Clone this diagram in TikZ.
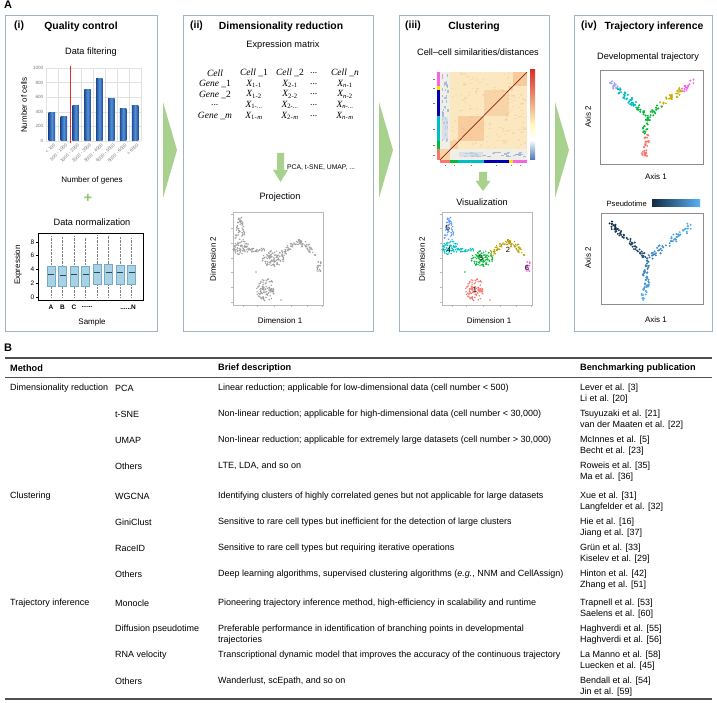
\documentclass[tikz,border=0pt]{standalone}
\usepackage{fontspec}
\setmainfont{Liberation Sans}
\newfontfamily\serf{Liberation Serif}
\definecolor{panelc}{RGB}{160,178,198}
\definecolor{chevc}{RGB}{169,209,142}
\definecolor{plusc}{RGB}{140,196,100}
\definecolor{bardark}{RGB}{30,78,150}
\definecolor{barlight}{RGB}{85,145,215}
\definecolor{redl}{RGB}{225,45,45}
\definecolor{boxf}{RGB}{168,210,230}
\definecolor{boxd}{RGB}{120,170,200}
\definecolor{medc}{RGB}{40,70,90}
\definecolor{ptgray}{RGB}{160,160,160}
\definecolor{gridc}{RGB}{225,225,225}
\definecolor{tickc}{RGB}{120,120,120}
\definecolor{frmc}{RGB}{185,185,185}
\definecolor{frm2}{RGB}{140,140,140}
\definecolor{rulec}{RGB}{80,80,80}
\definecolor{cA}{RGB}{248,118,109}
\definecolor{cB}{RGB}{183,159,0}
\definecolor{cC}{RGB}{0,186,56}
\definecolor{cD}{RGB}{0,191,196}
\definecolor{cE}{RGB}{97,156,255}
\definecolor{cF}{RGB}{245,100,227}
\definecolor{tP}{RGB}{160,165,245}
\definecolor{psA}{RGB}{19,43,67}
\definecolor{psB}{RGB}{86,177,247}
\definecolor{hmbase}{RGB}{251,231,192}
\definecolor{hmband}{RGB}{240,238,230}
\definecolor{hmblue}{RGB}{150,180,216}
\definecolor{hmblue2}{RGB}{200,214,232}
\definecolor{hmor}{RGB}{244,180,125}
\definecolor{dred}{RGB}{140,30,20}
\definecolor{cbred}{RGB}{215,48,39}
\definecolor{cbyel}{RGB}{255,250,190}
\definecolor{cbblue}{RGB}{69,117,180}

\newcommand{\cloud}{%
\pgfmathsetseed{4242}%
\foreach \i in {1,...,55}{\pgfmathsetmacro{\t}{rnd}\fill[kE] ({240+0.5*\t+(1.5+4.5*\t)*rand},{217+23*\t+1.5*rand}) circle (0.8);}%
\foreach \i in {1,...,70}{\pgfmathsetmacro{\a}{360*rnd}\pgfmathsetmacro{\r}{sqrt(rnd)}\fill[kD] ({241.5+8.5*\r*cos(\a)},{248+7*\r*sin(\a)}) circle (0.8);}%
\foreach \i in {1,...,26}{\pgfmathsetmacro{\t}{rnd}\fill[kD] ({249+17*\t},{250+1.8*rand}) circle (0.8);}%
\foreach \i in {1,...,100}{\pgfmathsetmacro{\a}{360*rnd}\pgfmathsetmacro{\r}{sqrt(rnd)}\fill[kC] ({273+11*\r*cos(\a)},{258.5+8*\r*sin(\a)}) circle (0.8);}%
\foreach \i in {1,...,90}{\pgfmathsetmacro{\t}{rnd}\fill[kB] ({283+33*\t+2.5*rand},{254-13*sin(180*\t)+3*\t+3*rand}) circle (0.8);}%
\foreach \i in {1,...,18}{\fill[kF] ({319+2*rand},{266+5.5*rand}) circle (0.8);}%
\foreach \i in {1,...,100}{\pgfmathsetmacro{\a}{360*rnd}\pgfmathsetmacro{\r}{sqrt(rnd)}\fill[kA] ({266+9.5*\r*cos(\a)},{290+11.5*\r*sin(\a)}) circle (0.8);}%
\fill[kC] (256,272) circle (0.8); \fill[kA] (281,300) circle (0.8);%
}
\newcommand{\plotframe}[4]{%
\draw[frm] (#1,#2) rectangle (#3,#4);
\foreach \tx in {243,257,274,291,307,322}{\draw[frmc,line width=0.4pt] (\tx-#1+233,#4) -- (\tx-#1+233,#4+2);}
\foreach \ty in {214,228,243,258,272,287,302}{\draw[frmc,line width=0.4pt] (#1,\ty) -- (#1-2,\ty);}
}
\newcommand{\trow}[7]{%
\node[tb] (#2a) at (10,#1) {#3};
\node[tb] (#2b) at (115,#1) {#4};
\node[tb] (#2c) at (218,#1) {#5};
\node[tb] (#2d) at (580,#1) {#6};
\node[tb] (#2e) at (580,#1+11) {#7};
}

\begin{document}
\begin{tikzpicture}[x=1pt,y=-1pt,
 panel/.style={draw=panelc, line width=0.9pt, minimum width=#1, minimum height=316pt, anchor=north west, inner sep=0pt, outer sep=0pt},
 ptitle/.style={font=\bfseries\fontsize{10.4}{12}\selectfont, inner sep=0pt},
 subt/.style={font=\fontsize{9.2}{11}\selectfont, inner sep=0pt},
 axl/.style={font=\fontsize{8}{9.6}\selectfont, inner sep=0pt},
 tk/.style={font=\fontsize{4.6}{5.5}\selectfont, text=tickc, inner sep=0pt},
 mat/.style={font=\serf\itshape\fontsize{9.5}{10}\selectfont, inner sep=0pt},
 tb/.style={font=\fontsize{9}{10.5}\selectfont, anchor=west, inner sep=0pt},
 th/.style={font=\bfseries\fontsize{9.2}{10.5}\selectfont, anchor=west, inner sep=0pt},
 frm/.style={draw=frmc, line width=0.5pt},
 frmb/.style={draw=frm2, line width=0.7pt},
 chev/.style={fill=chevc},
 lbl/.style={font=\bfseries\fontsize{11}{12}\selectfont, inner sep=0pt, anchor=west},
 cl/.style={font=\fontsize{7.5}{8}\selectfont, inner sep=0pt},
]
\useasboundingbox (0,0) rectangle (717,703);
\fill[white] (0,0) rectangle (717,703);

% ---------- labels and panels
\node[lbl] (labA) at (4,5) {A};
\node[panel=152pt] (P1) at (5,15) {};
\node[panel=190pt] (P2) at (183,15) {};
\node[panel=150pt] (P3) at (399,15) {};
\node[panel=138pt] (P4) at (574,15) {};

% chevrons between panels
\fill[chev] (163,102) -- (177,150) -- (163,198) -- cycle;
\fill[chev] (379,102) -- (393,150) -- (379,198) -- cycle;
\fill[chev] (555,102) -- (569,150) -- (555,198) -- cycle;

% titles
\node[ptitle, anchor=west] (t1a) at (14,26) {(i)};
\node[ptitle] (t1) at (81,27) {Quality control};
\node[ptitle, anchor=west] (t2a) at (190,26) {(ii)};
\node[ptitle] (t2) at (281,27) {Dimensionality reduction};
\node[ptitle, anchor=west] (t3a) at (405,26) {(iii)};
\node[ptitle] (t3) at (474,27) {Clustering};
\node[ptitle, anchor=west] (t4a) at (581,26) {(iv)};
\node[ptitle] (t4) at (654,27) {Trajectory inference};

% ---------- panel (i): bar chart
\node[subt] (s1) at (91,52) {Data filtering};
\foreach \k in {0,...,8}{\draw[gridc, line width=0.3pt] ({46+11.875*\k},68) -- ({46+11.875*\k},141);}
\foreach \v in {0,200,...,1000}{
  \draw[gridc, line width=0.3pt] (46,{141-0.073*\v}) -- (141,{141-0.073*\v});
  \node[tk, anchor=east] (yt\v) at (43.5,{141-0.073*\v}) {\v};
}
\foreach \k/\val/\lab in {0/390/{< 100},1/330/{500 - 1000},2/480/{1000 - 2000},3/710/{2000 - 3000},4/850/{3000 - 4000},5/580/{4000 - 5000},6/440/{5000 - 6000},7/490/{> 6000}}{
  \pgfmathsetmacro{\cx}{46+5.94+11.875*\k}
  \shade[left color=bardark, right color=bardark, middle color=barlight] ({\cx-3.3},141) rectangle ({\cx+3.3},{141-0.073*\val});
  \node[tk, rotate=45, anchor=north east] (xl\k) at ({\cx+1.5},143) {\lab};
}
\draw[redl, line width=1.1pt] (70.5,66) -- (70.5,143);
\node[axl, rotate=90] (ylab1) at (24,105) {Number of cells};
\node[axl] (xlab1) at (92,180) {Number of genes};

\node[font=\bfseries\fontsize{14}{14}\selectfont, text=plusc, inner sep=0pt] (plus) at (88,198) {+};

% ---------- panel (i): box plot
\node[subt] (s1b) at (92,222) {Data normalization};
\foreach \cx/\qa/\md/\qb/\wt in {51/1.6/3.3/4.5/8.9,62.5/1.5/3.2/4.4/8.8,74/1.6/3.3/4.5/8.8,85.5/1.5/3.3/4.5/8.7,97/1.8/3.5/4.8/9.0,108.5/1.9/3.5/4.8/8.9,120/1.8/3.5/4.6/8.8,131.5/1.8/3.5/4.6/8.6}{
  \draw[gray, densely dotted, line width=0.4pt] (\cx,297) -- (\cx,{297-6.9*\qa});
  \draw[gray, densely dotted, line width=0.4pt] (\cx,{297-6.9*\qb}) -- (\cx,{297-6.9*\wt});
  \filldraw[fill=boxf, draw=boxd, line width=0.4pt] ({\cx-4},{297-6.9*\qa}) rectangle ({\cx+4},{297-6.9*\qb});
  \draw[medc, line width=0.8pt] ({\cx-3},{297-6.9*\md}) -- ({\cx+3},{297-6.9*\md});
}
\draw[black, line width=0.6pt] (38,233) rectangle (143,300);
\foreach \v in {0,2,4,6,8}{
  \draw[black, line width=0.4pt] (36,{297-6.9*\v}) -- (38,{297-6.9*\v});
  \node[font=\fontsize{6.5}{7}\selectfont, inner sep=0pt, anchor=east] (by\v) at (34.5,{297-6.9*\v}) {\v};
}
\node[font=\bfseries\fontsize{6.5}{7}\selectfont, inner sep=0pt] (sA) at (51,307) {A};
\node[font=\bfseries\fontsize{6.5}{7}\selectfont, inner sep=0pt] (sB) at (62.5,307) {B};
\node[font=\bfseries\fontsize{6.5}{7}\selectfont, inner sep=0pt] (sC) at (74,307) {C};
\node[font=\bfseries\fontsize{6.5}{7}\selectfont, inner sep=0pt] (sD) at (87,307) {......};
\node[font=\bfseries\fontsize{6.5}{7}\selectfont, inner sep=0pt, anchor=east] (sN) at (136,307) {......N};
\node[axl, rotate=90] (ylab2) at (18,265) {Expression};
\node[axl] (xlab2) at (92,322) {Sample};

% ---------- panel (ii)
\node[subt] (s2) at (283,45) {Expression matrix};
\node[mat] (m00) at (215,73) {Cell};
\node[mat] (m01) at (254,73) {Cell \_{\upshape 1}};
\node[mat] (m02) at (290,73) {Cell \_{\upshape 2}};
\node[mat] (m03) at (314,73) {...};
\node[mat] (m04) at (345,73) {Cell \_n};
\node[mat] (m10) at (215,84) {Gene \_{\upshape 1}};
\node[mat] (m11) at (254,84) {X\textsubscript{\upshape 1-1}};
\node[mat] (m12) at (290,84) {X\textsubscript{\upshape 2-1}};
\node[mat] (m13) at (314,84) {...};
\node[mat] (m14) at (345,84) {X\textsubscript{n\upshape -1}};
\node[mat] (m20) at (215,94.5) {Gene \_{\upshape 2}};
\node[mat] (m21) at (254,94.5) {X\textsubscript{\upshape 1-2}};
\node[mat] (m22) at (290,94.5) {X\textsubscript{\upshape 2-2}};
\node[mat] (m23) at (314,94.5) {...};
\node[mat] (m24) at (345,94.5) {X\textsubscript{n\upshape -2}};
\node[mat] (m30) at (215,105) {...};
\node[mat] (m31) at (254,105) {X\textsubscript{\upshape 1-...}};
\node[mat] (m32) at (290,105) {X\textsubscript{\upshape 2-...}};
\node[mat] (m33) at (314,105) {...};
\node[mat] (m34) at (345,105) {X\textsubscript{n\upshape -...}};
\node[mat] (m40) at (215,116) {Gene \_m};
\node[mat] (m41) at (254,116) {X\textsubscript{\upshape 1-}\textsubscript{m}};
\node[mat] (m42) at (290,116) {X\textsubscript{\upshape 2-}\textsubscript{m}};
\node[mat] (m43) at (314,116) {...};
\node[mat] (m44) at (345,116) {X\textsubscript{n\upshape -}\textsubscript{m}};
\fill[chevc] (277,153) -- (284,153) -- (284,170) -- (288,170) -- (280.5,182) -- (273,170) -- (277,170) -- cycle;
\node[font=\fontsize{6.8}{8}\selectfont, inner sep=0pt, anchor=west] (alg) at (287,168) {PCA, t-SNE, UMAP, ...};
\node[subt] (s2b) at (280,197) {Projection};
\begin{scope}
\colorlet{kA}{ptgray}\colorlet{kB}{ptgray}\colorlet{kC}{ptgray}\colorlet{kD}{ptgray}\colorlet{kE}{ptgray}\colorlet{kF}{ptgray}
\plotframe{233}{212}{323}{305}
\cloud
\end{scope}
\node[axl, rotate=90] (ylab3) at (213,259) {Dimension 2};
\node[axl] (xlab3) at (280,321) {Dimension 1};

% ---------- panel (iii)
\node[subt] (s3) at (478,52) {Cell–cell similarities/distances};
\fill[hmbase] (440,72) rectangle (527,160);
\fill[hmband] (440,72) rectangle (450.4,149.4);
\fill[hmband] (450.4,149.4) rectangle (527,160);
\fill[hmor, opacity=0.35] (440,149.4) rectangle (450.4,160);
\fill[hmor, opacity=0.45] (450.4,141.5) rectangle (458.3,149.4);
\fill[hmor, opacity=0.5] (458.3,116) rectangle (483.5,141.5);
\fill[hmor, opacity=0.35] (483.5,90.5) rectangle (508.7,116);
\fill[hmor, opacity=0.45] (508.7,86.1) rectangle (513.1,90.5);
\fill[hmor, opacity=0.55] (513.1,72) rectangle (527,86.1);
\pgfmathsetseed{99}
\foreach \i in {1,...,160}{\pgfmathsetmacro{\hx}{450.4+74*rnd}\pgfmathsetmacro{\hy}{72+76*rnd}\fill[hmor, opacity=0.25] (\hx,\hy) rectangle ({\hx+2.5},{\hy+1.2});}
\foreach \i in {1,...,40}{\pgfmathsetmacro{\hx}{459+66*rnd}\pgfmathsetmacro{\hy}{151.5+5*rnd}\fill[hmblue, opacity=0.8] (\hx,\hy) rectangle ({\hx+3},{\hy+1});}
\foreach \i in {1,...,40}{\pgfmathsetmacro{\hx}{441.5+6*rnd}\pgfmathsetmacro{\hy}{73+67*rnd}\fill[hmblue, opacity=0.8] (\hx,\hy) rectangle ({\hx+1.2},{\hy+2.5});}
\fill[hmblue2, opacity=0.6] (442,117) rectangle (448,140);
\fill[hmblue2, opacity=0.6] (459,152) rectangle (483,157);
\draw[dred, line width=0.7pt] (440,160) -- (527,72);
% side colour strips
\fill[cA] (436.5,149.4) rectangle (439.5,160);
\fill[cC] (436.5,141.5) rectangle (439.5,149.4);
\fill[cD] (436.5,116) rectangle (439.5,141.5);
\fill[blue!70!black] (436.5,90.5) rectangle (439.5,116);
\fill[yellow!80!orange] (436.5,86.1) rectangle (439.5,90.5);
\fill[cF] (436.5,72) rectangle (439.5,86.1);
\fill[cA] (440,160.5) rectangle (450.4,163.5);
\fill[cC] (450.4,160.5) rectangle (458.3,163.5);
\fill[cD] (458.3,160.5) rectangle (483.5,163.5);
\fill[blue!70!black] (483.5,160.5) rectangle (508.7,163.5);
\fill[yellow!80!orange] (508.7,160.5) rectangle (513.1,163.5);
\fill[cF] (513.1,160.5) rectangle (527,163.5);
\foreach \tx in {445,454,471,496,511,520}{\draw[tickc, line width=0.4pt] (\tx,165) -- (\tx,166.5);}
\foreach \ty in {155,145,129,103,88,79}{\draw[tickc, line width=0.4pt] (433,\ty) -- (434.5,\ty);}
% colour bar
\shade[top color=cbred, bottom color=cbyel] (530,70) rectangle (535,125);
\shade[top color=cbyel, bottom color=white] (530,125) rectangle (535,140);
\shade[top color=white, bottom color=cbblue] (530,140) rectangle (535,160);
\fill[chevc] (479,172) -- (487,172) -- (487,181) -- (490.5,181) -- (483,191) -- (475.5,181) -- (479,181) -- cycle;
\node[subt] (s3b) at (482,202) {Visualization};
\begin{scope}[xshift=209pt]
\colorlet{kA}{cA}\colorlet{kB}{cB}\colorlet{kC}{cC}\colorlet{kD}{cD}\colorlet{kE}{cE}\colorlet{kF}{cF}
\plotframe{233}{212}{323}{305}
\cloud
\end{scope}
\node[cl] (k5) at (448,228) {5};
\node[cl] (k4) at (449,250) {4};
\node[cl] (k3) at (481,258) {3};
\node[cl] (k2) at (508,250) {2};
\node[cl] (k6) at (527,268) {6};
\node[cl] (k1) at (475,290) {1};
\node[axl, rotate=90] (ylab4) at (422,259) {Dimension 2};
\node[axl] (xlab4) at (489,321) {Dimension 1};

% ---------- panel (iv)
\node[subt] (s4) at (648,57) {Developmental trajectory};
\draw[frmb] (600,70) rectangle (703,164);
\pgfmathsetseed{77}
\foreach \i in {1,...,16}{\pgfmathsetmacro{\t}{0.25*rnd}\fill[tP] ({610+33*\t+3*rand},{81+32*\t+3*rand}) circle (1.1);}
\foreach \i in {1,...,36}{\pgfmathsetmacro{\t}{0.25+0.55*rnd}\fill[cD] ({610+33*\t+3*rand},{81+32*\t+3*rand}) circle (1.1);}
\foreach \i in {1,...,12}{\pgfmathsetmacro{\t}{0.8+0.2*rnd}\fill[cC] ({610+33*\t+3*rand},{81+32*\t+3*rand}) circle (1.1);}
\foreach \i in {1,...,16}{\pgfmathsetmacro{\t}{0.25*rnd}\fill[cF] ({692-42*\t+3*rand},{82+31*\t+3*rand}) circle (1.1);}
\foreach \i in {1,...,30}{\pgfmathsetmacro{\t}{0.25+0.5*rnd}\fill[cB!80!yellow] ({692-42*\t+3*rand},{82+31*\t+3*rand}) circle (1.1);}
\foreach \i in {1,...,14}{\pgfmathsetmacro{\t}{0.75+0.25*rnd}\fill[cC] ({692-42*\t+3*rand},{82+31*\t+3*rand}) circle (1.1);}
\foreach \i in {1,...,24}{\pgfmathsetmacro{\t}{0.45*rnd}\fill[cC] ({647-2*\t+1.5*sin(720*\t)+2.5*rand},{115+42*\t}) circle (1.1);}
\foreach \i in {1,...,30}{\pgfmathsetmacro{\t}{0.45+0.55*rnd}\fill[cA] ({647-2*\t+1.5*sin(720*\t)+2.5*rand},{115+42*\t}) circle (1.1);}
\node[axl, rotate=90] (ylab5) at (588,117) {Axis 2};
\node[axl] (xlab5) at (656,177) {Axis 1};

\node[font=\fontsize{7.6}{9}\selectfont, inner sep=0pt, anchor=east] (pslab) at (647,203.5) {Pseudotime};
\shade[left color=psA, right color=psB] (652,200) rectangle (700,207);
\draw[frmb] (601,213) rectangle (703,304);
\foreach \i in {1,...,60}{\pgfmathsetmacro{\t}{rnd}\pgfmathtruncatemacro{\m}{100-30*\t}\fill[psA!\m!psB] ({610+35*\t+3*rand},{223+34*\t+3*rand}) circle (1.1);}
\foreach \i in {1,...,55}{\pgfmathsetmacro{\t}{rnd}\pgfmathtruncatemacro{\m}{100-35*\t}\fill[psB!\m!psA] ({692-42*\t+3*rand},{225+32*\t+3*rand}) circle (1.1);}
\foreach \i in {1,...,55}{\pgfmathsetmacro{\t}{rnd}\pgfmathtruncatemacro{\m}{55+45*\t}\fill[psB!\m!psA] ({647-2*\t+1.5*sin(720*\t)+2.5*rand},{258+42*\t}) circle (1.1);}
\node[axl, rotate=90] (ylab6) at (588,258) {Axis 2};
\node[axl] (xlab6) at (656,320) {Axis 1};

% ---------- table B
\node[lbl] (labB) at (4,348) {B};
\draw[rulec, line width=1.2pt] (5,358) -- (712,358);
\node[th] (hA) at (10,368) {Method};
\node[th] (hC) at (218,368) {Brief description};
\node[th] (hD) at (580,368) {Benchmarking publication};
\draw[rulec, line width=0.6pt] (5,377) -- (712,377);
\trow{388}{ra}{Dimensionality reduction}{PCA}{Linear reduction; applicable for low-dimensional data (cell number < 500)}{Lever et al. [3]}{Li et al. [20]}
\trow{414}{rb}{}{t-SNE}{Non-linear reduction; applicable for high-dimensional data (cell number < 30,000)}{Tsuyuzaki et al. [21]}{van der Maaten et al. [22]}
\trow{440}{rc}{}{UMAP}{Non-linear reduction; applicable for extremely large datasets (cell number > 30,000)}{McInnes et al. [5]}{Becht et al. [23]}
\trow{466}{rd}{}{Others}{LTE, LDA, and so on}{Roweis et al. [35]}{Ma et al. [36]}
\trow{496}{re}{Clustering}{WGCNA}{Identifying clusters of highly correlated genes but not applicable for large datasets}{Xue et al. [31]}{Langfelder et al. [32]}
\trow{522}{rf}{}{GiniClust}{Sensitive to rare cell types but inefficient for the detection of large clusters}{Hie et al. [16]}{Jiang et al. [37]}
\trow{548}{rg}{}{RaceID}{Sensitive to rare cell types but requiring iterative operations}{Grün et al. [33]}{Kiselev et al. [29]}
\trow{574}{rh}{}{Others}{Deep learning algorithms, supervised clustering algorithms (\textit{e.g.}, NNM and CellAssign)}{Hinton et al. [42]}{Zhang et al. [51]}
\trow{603}{ri}{Trajectory inference}{Monocle}{Pioneering trajectory inference method, high-efficiency in scalability and runtime}{Trapnell et al. [53]}{Saelens et al. [60]}
\trow{629}{rj}{}{Diffusion pseudotime}{Preferable performance in identification of branching points in developmental}{Haghverdi et al. [55]}{Haghverdi et al. [56]}
\node[tb] (rjc2) at (218,640) {trajectories};
\trow{655}{rk}{}{RNA velocity}{Transcriptional dynamic model that improves the accuracy of the continuous trajectory}{La Manno et al. [58]}{Luecken et al. [45]}
\trow{681}{rl}{}{Others}{Wanderlust, scEpath, and so on}{Bendall et al. [54]}{Jin et al. [59]}
\draw[rulec, line width=1.2pt] (5,699) -- (712,699);
\end{tikzpicture}
\end{document}
